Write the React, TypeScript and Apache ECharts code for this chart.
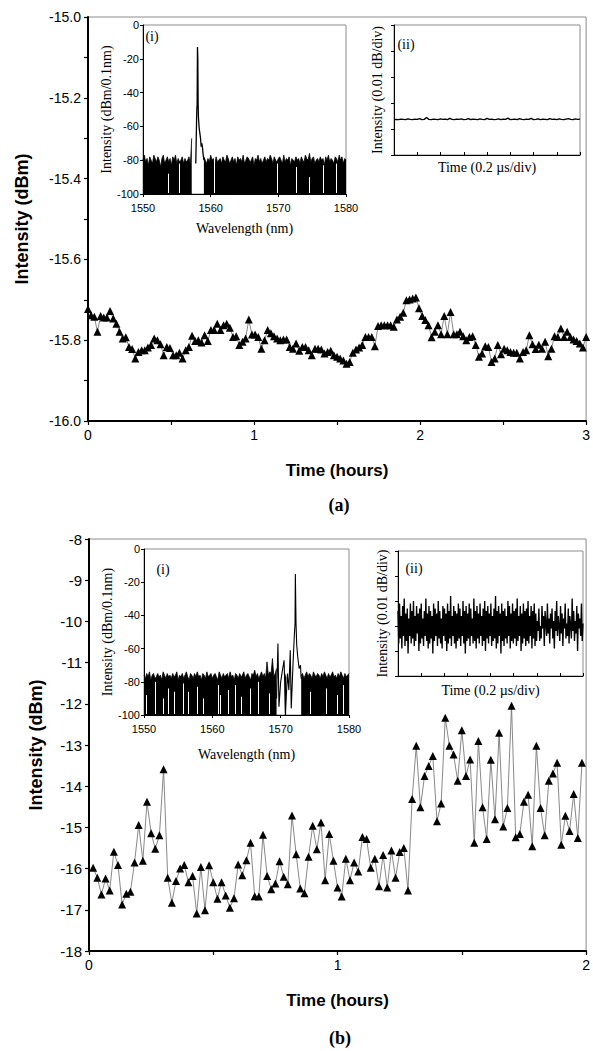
import React, { useEffect, useRef } from "react";
import * as echarts from "echarts";

// ---------- (a) main: intensity vs time, 0–3 h ----------
const mainA: number[] = [
  -15.723, -15.738, -15.742, -15.779, -15.740, -15.744, -15.744, -15.728, -15.746, -15.759,
  -15.779, -15.796, -15.793, -15.817, -15.822, -15.845, -15.829, -15.825, -15.825, -15.818,
  -15.812, -15.796, -15.800, -15.810, -15.837, -15.817, -15.819, -15.837, -15.837, -15.831,
  -15.845, -15.825, -15.817, -15.789, -15.802, -15.800, -15.806, -15.788, -15.802, -15.775,
  -15.775, -15.759, -15.775, -15.763, -15.759, -15.769, -15.792, -15.790, -15.812, -15.804,
  -15.796, -15.749, -15.786, -15.786, -15.792, -15.821, -15.800, -15.775, -15.783, -15.790,
  -15.796, -15.800, -15.798, -15.798, -15.817, -15.821, -15.808, -15.826, -15.817, -15.817,
  -15.825, -15.837, -15.821, -15.821, -15.823, -15.833, -15.829, -15.826, -15.837, -15.841,
  -15.845, -15.850, -15.858, -15.854, -15.831, -15.823, -15.818, -15.812, -15.792, -15.792,
  -15.792, -15.815, -15.765, -15.763, -15.763, -15.763, -15.763, -15.767, -15.749, -15.742,
  -15.732, -15.701, -15.699, -15.697, -15.694, -15.721, -15.740, -15.750, -15.763, -15.793,
  -15.779, -15.763, -15.785, -15.740, -15.785, -15.730, -15.785, -15.785, -15.779, -15.790,
  -15.800, -15.792, -15.790, -15.812, -15.841, -15.833, -15.815, -15.817, -15.854, -15.845,
  -15.812, -15.835, -15.821, -15.825, -15.829, -15.831, -15.831, -15.845, -15.829, -15.825,
  -15.788, -15.810, -15.822, -15.811, -15.821, -15.804, -15.840, -15.821, -15.790, -15.792,
  -15.771, -15.792, -15.779, -15.792, -15.798, -15.802, -15.808, -15.818, -15.792,
];
const mainAHours = 3;

// ---------- (b) main: intensity vs time, one reading per minute ----------
const mainB: number[] = [
  -15.98, -16.22, -16.63, -16.24, -16.53, -15.59, -15.91, -16.87, -16.61, -16.56,
  -15.85, -14.94, -15.81, -14.38, -15.14, -15.52, -15.19, -13.59, -16.22, -16.83,
  -16.30, -16.00, -15.91, -16.33, -16.18, -17.09, -15.96, -17.01, -15.92, -16.33,
  -16.73, -16.33, -16.65, -16.95, -16.72, -15.90, -16.16, -15.80, -15.37, -16.67,
  -16.68, -15.18, -16.18, -16.50, -16.36, -15.82, -16.20, -16.38, -14.71, -15.65,
  -16.48, -16.60, -15.71, -14.96, -15.53, -14.88, -16.28, -15.16, -15.81, -16.46,
  -16.68, -15.76, -16.28, -15.85, -16.07, -15.23, -15.28, -15.98, -15.76, -16.43,
  -15.67, -16.46, -15.56, -16.22, -15.60, -15.50, -16.53, -14.31, -13.02, -14.51,
  -13.75, -13.51, -13.27, -14.85, -14.42, -12.34, -13.02, -13.23, -13.87, -12.64,
  -13.75, -13.35, -15.37, -12.90, -14.51, -15.28, -13.36, -14.80, -12.70, -14.98,
  -14.53, -12.05, -15.24, -15.16, -14.38, -14.21, -15.46, -13.02, -14.53, -15.19,
  -13.87, -13.69, -13.43, -15.42, -14.72, -15.09, -14.19, -15.26, -13.43,
];

// ---------- inset (i) spectra: 1550–1580 nm, 0.2 nm grid ----------
const specStart = 1550;
const specStep = 0.2;
const specAFloor: (number | null)[] = [
  -80, -77, -81, -79, -83, -78, -80, -82, -77, -79,
  -81, -78, -80, -84, -79, -77, -82, -80, -78, -81,
  -79, -83, -78, -80, -77, -82, -79, -81, -80, -78,
  -82, -79, -81, -80, -78, -83, -67, null, null, null,
  null, null, null, null, null, -78, -80, -82, -79, -81,
  -77, -80, -79, -83, -78, -81, -80, -79, -82, -78,
  -80, -81, -77, -79, -82, -80, -78, -81, -79, -83,
  -78, -80, -79, -81, -77, -82, -80, -78, -79, -81,
  -80, -78, -83, -79, -80, -77, -81, -79, -82, -80,
  -78, -81, -79, -80, -77, -79, -82, -78, -80, -81,
  -79, -78, -80, -82, -77, -81, -79, -80, -78, -83,
  -79, -80, -81, -78, -80, -79, -82, -78, -80, -81,
  -77, -79, -80, -76, -81, -79, -78, -82, -80, -79,
  -81, -78, -80, -79, -83, -78, -80, -77, -81, -79,
  -80, -82, -78, -79, -81, -77, -80, -78, -82, -79,
  -80,
];
const specAPeakWl = [1557.8, 1557.9, 1557.95, 1558.0, 1558.05, 1558.1, 1558.15, 1558.2, 1558.3, 1558.4, 1558.5, 1558.6, 1558.7, 1558.8, 1558.9, 1559.0];
const specAPeakVal = [-82, -60, -50, -47, -13, -20, -47, -55, -61, -64, -67, -72, -70, -73, -77, -80];
const specAGaps: [number, number][] = [
  [1553.8, -88], [1555.3, -82], [1560.5, -80], [1569.8, -82], [1572.7, -84], [1574.5, -90], [1576.7, -83], [1578.6, -82],
];

const specBFloor: (number | null)[] = [
  -76, -78, -75, -77, -74, -79, -76, -75, -78, -77,
  -75, -77, -76, -79, -74, -76, -78, -75, -77, -76,
  -78, -75, -77, -76, -74, -79, -76, -77, -75, -78,
  -76, -74, -77, -79, -75, -76, -78, -75, -77, -74,
  -77, -76, -79, -75, -76, -78, -74, -77, -76, -75,
  -78, -76, -75, -77, -79, -74, -76, -78, -75, -77,
  -76, -75, -78, -74, -77, -76, -79, -75, -76, -78,
  -75, -77, -76, -74, -78, -76, -75, -77, -79, -75,
  -76, -73, -77, -75, -78, -76, -74, -77, -75, -78,
  -68, -76, -74, -75, -66, -77, -75, -72, null, null,
  null, -76, null, -75, -78, null, null, null, null, null,
  null, null, null, null, null, -76, -75, -78, -76, -74,
  -77, -75, -76, -78, -74, -76, -77, -75, -76, -78,
  -75, -77, -74, -76, -78, -75, -77, -76, -74, -77,
  -76, -78, -75, -77, -74, -76, -78, -75, -77, -76,
  -75,
];
const specBPeakWl = [1569.4, 1569.6, 1569.75, 1570.0, 1570.3, 1570.5, 1570.7, 1571.0, 1571.2, 1571.4, 1571.55, 1571.8, 1572.0, 1572.1, 1572.15, 1572.25, 1572.35, 1572.5, 1572.7, 1572.9, 1573.0];
const specBPeakVal = [-90, -57, -95, -80, -72, -67, -98, -75, -85, -61, -96, -70, -52, -45, -15, -45, -58, -65, -72, -70, -78];
const specBGaps: [number, number][] = [
  [1550.4, -88], [1551.6, -80], [1552.8, -90], [1553.6, -84], [1554.4, -86], [1555.8, -81], [1556.5, -86],
  [1557.8, -83], [1558.6, -90], [1560.8, -82], [1561.2, -88], [1562.3, -85], [1563.3, -82], [1564.3, -89],
  [1565.5, -84], [1566.7, -80], [1568.3, -87], [1574.4, -86], [1576.6, -84], [1578.3, -88], [1579.2, -82],
];

// ---------- inset (ii) time traces: 8 div x 5 div ----------
const traceA: number[] = [
  1.36, 1.37, 1.36, 1.38, 1.37, 1.36, 1.39, 1.37, 1.36, 1.38,
  1.37, 1.40, 1.36, 1.37, 1.44, 1.37, 1.36, 1.38, 1.37, 1.36,
  1.39, 1.37, 1.38, 1.36, 1.41, 1.37, 1.36, 1.38, 1.37, 1.39,
  1.36, 1.37, 1.40, 1.36, 1.38, 1.37, 1.36, 1.39, 1.37, 1.36,
  1.41, 1.37, 1.38, 1.36, 1.37, 1.39, 1.36, 1.38, 1.37, 1.42,
  1.36, 1.37, 1.38, 1.36, 1.40, 1.37, 1.36, 1.38, 1.37, 1.41,
  1.36, 1.37, 1.39, 1.36, 1.38, 1.37, 1.36, 1.40, 1.37, 1.38,
  1.36, 1.39, 1.37, 1.36, 1.38, 1.40, 1.37, 1.36, 1.39, 1.37,
  1.38,
];
const traceB: number[] = [
  2.6, 1.3, 2.9, 1.5, 2.4, 1.1, 2.8, 1.6, 3.1, 1.2, 2.5, 1.4, 2.7, 0.9, 2.3, 1.6, 2.9, 1.3, 2.6, 1.5,
  3.0, 1.2, 2.4, 1.4, 2.8, 1.7, 2.5, 1.0, 2.7, 1.3, 2.9, 1.5, 2.3, 1.2, 2.6, 1.6, 3.1, 1.4, 2.5, 1.1,
  2.8, 1.3, 2.6, 1.5, 2.4, 0.9, 2.9, 1.4, 2.7, 1.6, 2.5, 1.2, 3.0, 1.5, 2.6, 1.3, 2.3, 1.1, 2.8, 1.6,
  2.7, 1.4, 2.5, 1.0, 2.9, 1.3, 2.6, 1.5, 3.2, 1.2, 2.4, 1.6, 2.8, 1.3, 2.6, 1.1, 2.5, 1.4, 2.9, 1.5,
  2.7, 1.2, 2.4, 1.6, 3.0, 1.3, 2.6, 0.9, 2.8, 1.4, 2.5, 1.5, 2.9, 1.2, 2.7, 1.6, 2.3, 1.3, 3.1, 1.4,
  2.6, 1.1, 2.8, 1.5, 2.5, 1.3, 2.9, 1.6, 2.4, 1.2, 2.7, 1.4, 3.0, 1.0, 2.6, 1.5, 2.8, 1.3, 2.5, 1.6,
  2.9, 1.2, 2.4, 1.4, 2.7, 1.5, 3.2, 1.1, 2.6, 1.3, 2.8, 1.6, 2.5, 0.9, 2.9, 1.4, 2.6, 1.2, 2.7, 1.5,
  2.4, 1.3, 3.0, 1.6, 2.8, 1.1, 2.5, 1.4, 2.9, 1.3, 2.6, 1.5, 2.7, 1.2, 3.1, 1.4, 2.4, 1.6, 2.8, 1.0,
  2.5, 1.3, 2.9, 1.5, 2.6, 1.2, 2.7, 1.4, 3.0, 1.3, 2.4, 1.6, 2.8, 1.1, 2.6, 1.5, 2.9, 1.2, 2.5, 1.4,
  2.2, 1.8, 2.7, 1.4, 2.0, 1.5, 2.8, 1.9, 2.4, 1.2, 2.6, 2.1, 1.6, 2.9, 1.7, 2.3, 1.3, 2.5, 1.9, 2.7,
  1.5, 2.2, 1.1, 2.6, 1.8, 3.0, 1.6, 2.4, 2.0, 1.4, 2.8, 1.7, 2.5, 1.2, 2.3, 1.9, 2.9, 1.5, 2.1, 1.6,
  2.7, 1.3, 2.4, 2.0, 1.5, 3.1, 1.8, 2.6, 1.4, 2.2, 1.7, 2.8, 1.0, 2.5, 1.9, 2.3, 1.6, 2.9, 1.4, 2.1,
];
const traceDivX = 8;
const traceDivY = 5;

// ---------- tick labels / titles ----------
const mainXTitle = "Time (hours)";
const mainYTitle = "Intensity (dBm)";
const specXTitle = "Wavelength (nm)";
const specYTitle = "Intensity (dBm/0.1nm)";
const traceXTitle = "Time (0.2 µs/div)";
const traceYTitle = "Intensity (0.01 dB/div)";

const SANS = "'Liberation Sans', Arial, sans-serif";
const NARROW = "'Liberation Sans Narrow', 'Arial Narrow', 'Liberation Sans', sans-serif";
const SERIF = "'Liberation Serif', 'Times New Roman', serif";

function specSeriesData(floor: (number | null)[]) {
  return floor.map((v, i) => [+(specStart + i * specStep).toFixed(2), v === null ? "-" : v]);
}

function buildOption() {
  const grids = [
    { left: 88, top: 17, width: 502, height: 404 }, // 0 main a
    { left: 143, top: 25, width: 203, height: 169 }, // 1 a(i)
    { left: 394, top: 25, width: 186, height: 130 }, // 2 a(ii)
    { left: 89, top: 539, width: 502, height: 412 }, // 3 main b
    { left: 144, top: 549, width: 205, height: 166 }, // 4 b(i)
    { left: 398, top: 551, width: 185, height: 125 }, // 5 b(ii)
  ].map((g) => ({
    ...g,
    show: true,
    borderColor: "#8c8c8c",
    borderWidth: 1,
    backgroundColor: "#fff",
    containLabel: false,
  }));

  const mainX = (gi: number, max: number, nameGap: number) => ({
    gridIndex: gi,
    type: "value",
    min: 0,
    max,
    interval: 0.5,
    axisLine: { show: true, onZero: false, lineStyle: { color: "#000", width: 2 } },
    axisTick: { show: true, length: 4, lineStyle: { color: "#000", width: 1.2 } },
    axisLabel: {
      formatter: (v: number) => (Number.isInteger(v) ? String(v) : ""),
      fontSize: 14,
      color: "#000",
      fontFamily: SANS,
      margin: 7,
      showMaxLabel: true,
      showMinLabel: true,
    },
    splitLine: { show: false },
    name: mainXTitle,
    nameLocation: "middle",
    nameGap,
    nameTextStyle: { fontWeight: "bold", fontSize: 17, fontFamily: SANS, color: "#000" },
  });

  const specX = (gi: number, nameGap: number) => ({
    gridIndex: gi,
    type: "value",
    min: 1550,
    max: 1580,
    interval: 10,
    axisLine: { show: true, onZero: false, lineStyle: { color: "#000", width: 1 } },
    axisTick: { show: true, length: 3, lineStyle: { color: "#000" } },
    axisLabel: { formatter: (v: number) => String(v), fontSize: 11, color: "#000", fontFamily: NARROW, margin: 8 },
    splitLine: { show: false },
    name: specXTitle,
    nameLocation: "middle",
    nameGap,
    nameTextStyle: { fontSize: 14, fontFamily: SERIF, color: "#000" },
  });
  const specY = (gi: number, nameGap: number) => ({
    gridIndex: gi,
    type: "value",
    min: -100,
    max: 0,
    interval: 20,
    axisLine: { show: true, onZero: false, lineStyle: { color: "#000", width: 1 } },
    axisTick: { show: true, length: 3, lineStyle: { color: "#000" } },
    axisLabel: { formatter: (v: number) => String(v), fontSize: 11, color: "#000", fontFamily: NARROW, margin: 4 },
    splitLine: { show: false },
    name: specYTitle,
    nameLocation: "middle",
    nameGap,
    nameTextStyle: { fontSize: 14, fontFamily: SERIF, color: "#000" },
  });
  const traceX = (gi: number, nameGap: number) => ({
    gridIndex: gi,
    type: "value",
    min: 0,
    max: traceDivX,
    interval: 1,
    axisLine: { show: true, onZero: false, lineStyle: { color: "#000", width: 1 } },
    axisTick: { show: true, inside: true, length: 3, lineStyle: { color: "#000" } },
    axisLabel: { show: false },
    splitLine: { show: false },
    name: traceXTitle,
    nameLocation: "middle",
    nameGap,
    nameTextStyle: { fontSize: 14, fontFamily: SERIF, color: "#000", verticalAlign: "top" },
  });
  const traceY = (gi: number, nameGap: number) => ({
    gridIndex: gi,
    type: "value",
    min: 0,
    max: traceDivY,
    interval: 1,
    axisLine: { show: true, onZero: false, lineStyle: { color: "#000", width: 1 } },
    axisTick: { show: true, length: 3, lineStyle: { color: "#000" } },
    axisLabel: { show: false },
    splitLine: { show: false },
    name: traceYTitle,
    nameLocation: "middle",
    nameGap,
    nameTextStyle: { fontSize: 14, fontFamily: SERIF, color: "#000" },
  });

  const xAxis = [
    mainX(0, mainAHours, 41),
    specX(1, 27),
    traceX(2, 5),
    mainX(3, 2, 41),
    specX(4, 32),
    traceX(5, 7),
  ];
  const yAxis = [
    {
      gridIndex: 0,
      type: "value",
      min: -16,
      max: -15,
      interval: 0.1,
      axisLine: { show: true, onZero: false, lineStyle: { color: "#000", width: 2 } },
      axisTick: { show: true, length: 4, lineStyle: { color: "#000", width: 1.2 } },
      axisLabel: {
        formatter: (v: number) => (Math.round(v * 10) % 2 === 0 ? v.toFixed(1) : ""),
        fontSize: 14,
        color: "#000",
        fontFamily: SANS,
        margin: 7,
      },
      splitLine: { show: false },
      name: mainYTitle,
      nameLocation: "middle",
      nameGap: 57,
      nameTextStyle: { fontWeight: "bold", fontSize: 18, fontFamily: SANS, color: "#000" },
    },
    specY(1, 30),
    traceY(2, 10),
    {
      gridIndex: 3,
      type: "value",
      min: -18,
      max: -8,
      interval: 1,
      axisLine: { show: true, onZero: false, lineStyle: { color: "#000", width: 2 } },
      axisTick: { show: true, length: 4, lineStyle: { color: "#000", width: 1.2 } },
      axisLabel: { fontSize: 15, color: "#000", fontFamily: SANS, margin: 7 },
      splitLine: { show: false },
      name: mainYTitle,
      nameLocation: "middle",
      nameGap: 44,
      nameTextStyle: { fontWeight: "bold", fontSize: 18, fontFamily: SANS, color: "#000" },
    },
    specY(4, 29),
    traceY(5, 9),
  ];

  const gapLines = (gaps: [number, number][]) => ({
    silent: true,
    symbol: ["none", "none"],
    label: { show: false },
    animation: false,
    lineStyle: { color: "#fff", width: 1, type: "solid", opacity: 1 },
    emphasis: { disabled: true },
    data: gaps.map(([w, top]) => [{ coord: [w, -99.4] }, { coord: [w, top] }]),
  });

  const series: any[] = [
    {
      type: "line",
      xAxisIndex: 0,
      yAxisIndex: 0,
      data: mainA.map((v, i) => [(i * mainAHours) / (mainA.length - 1), v]),
      symbol: "triangle",
      symbolSize: 8,
      showAllSymbol: true,
      itemStyle: { color: "#000" },
      lineStyle: { color: "#6a6a6a", width: 0.8 },
      z: 3,
    },
    {
      type: "line",
      xAxisIndex: 1,
      yAxisIndex: 1,
      data: specSeriesData(specAFloor),
      symbol: "none",
      connectNulls: false,
      lineStyle: { color: "#000", width: 0.8 },
      areaStyle: { color: "#000", opacity: 1, origin: "start" },
      markLine: gapLines(specAGaps),
    },
    {
      type: "line",
      xAxisIndex: 1,
      yAxisIndex: 1,
      data: specAPeakWl.map((w, i) => [w, specAPeakVal[i]]),
      symbol: "none",
      lineStyle: { color: "#000", width: 1.3 },
    },
    {
      type: "line",
      xAxisIndex: 2,
      yAxisIndex: 2,
      data: traceA.map((v, i) => [(i * traceDivX) / (traceA.length - 1), v]),
      symbol: "none",
      lineStyle: { color: "#000", width: 1.4 },
    },
    {
      type: "line",
      xAxisIndex: 3,
      yAxisIndex: 3,
      data: mainB.map((v, i) => [(i + 1) / 60, v]),
      symbol: "triangle",
      symbolSize: 8,
      showAllSymbol: true,
      itemStyle: { color: "#000" },
      lineStyle: { color: "#6a6a6a", width: 0.8 },
      z: 3,
    },
    {
      type: "line",
      xAxisIndex: 4,
      yAxisIndex: 4,
      data: specSeriesData(specBFloor),
      symbol: "none",
      connectNulls: false,
      lineStyle: { color: "#000", width: 0.8 },
      areaStyle: { color: "#000", opacity: 1, origin: "start" },
      markLine: gapLines(specBGaps),
    },
    {
      type: "line",
      xAxisIndex: 4,
      yAxisIndex: 4,
      data: specBPeakWl.map((w, i) => [w, specBPeakVal[i]]),
      symbol: "none",
      lineStyle: { color: "#000", width: 1.1 },
    },
    {
      type: "line",
      xAxisIndex: 5,
      yAxisIndex: 5,
      data: traceB.map((v, i) => [(i * traceDivX) / (traceB.length - 1), v]),
      symbol: "none",
      lineStyle: { color: "#000", width: 1.35 },
    },
  ];

  const txt = (text: string, x: number, y: number, font: string) => ({
    type: "text",
    x,
    y,
    z: 10,
    style: { text, font, fill: "#000", textAlign: "center", textVerticalAlign: "middle" },
  });

  const graphic = [
    txt("(a)", 339, 505, `bold 18px ${SERIF}`),
    txt("(b)", 340, 1038, `bold 18px ${SERIF}`),
    txt("(i)", 152, 36, `14px ${SERIF}`),
    txt("(ii)", 406, 44, `14px ${SERIF}`),
    txt("(i)", 163, 569, `14px ${SERIF}`),
    txt("(ii)", 414, 568, `14px ${SERIF}`),
  ];

  return {
    animation: false,
    backgroundColor: "#fff",
    grid: grids,
    xAxis,
    yAxis,
    series,
    graphic,
  };
}

export default function App() {
  const ref = useRef<HTMLDivElement>(null);
  useEffect(() => {
    if (!ref.current) return;
    const chart = echarts.init(ref.current, undefined, { renderer: "svg" });
    chart.setOption(buildOption() as any);
    return () => chart.dispose();
  }, []);
  return (
    <div
      ref={ref}
      style={{ position: "fixed", left: 0, top: 0, width: 593, height: 1051, background: "#fff" }}
    />
  );
}
